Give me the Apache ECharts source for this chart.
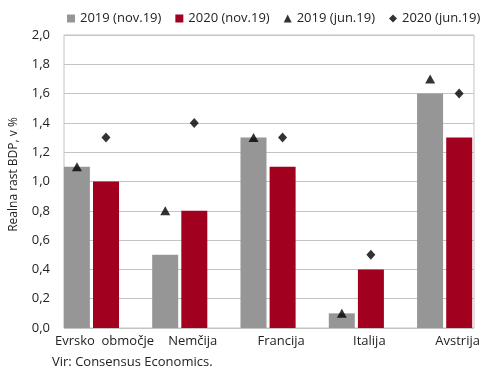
<!DOCTYPE html>
<html><head><meta charset="utf-8">
<script src="https://cdn.jsdelivr.net/npm/echarts@6/dist/echarts.min.js"></script>
<style>html,body{margin:0;padding:0;background:#fff}#c{width:490px;height:376px}</style>
</head><body><div id="c"></div>
<script>
const categories = ['Evrsko  območje', 'Nemčija', 'Francija', 'Italija', 'Avstrija'];
const nov2019 = [1.1, 0.5, 1.3, 0.1, 1.6];
const nov2020 = [1.0, 0.8, 1.1, 0.4, 1.3];
const jun2019 = [1.1, 0.8, 1.3, 0.1, 1.7];
const jun2020 = [1.3, 1.4, 1.3, 0.5, 1.6];
const yTicks = [0, 0.2, 0.4, 0.6, 0.8, 1.0, 1.2, 1.4, 1.6, 1.8, 2.0];
const seriesNames = ['2019 (nov.19)', '2020 (nov.19)', '2019 (jun.19)', '2020 (jun.19)'];

const FONT = 'Open Sans';
const chart = echarts.init(document.getElementById('c'), null, {renderer: 'canvas'});
const grey = '#969696', red = '#a2001f';
chart.setOption({
  animation: false,
  textStyle: {fontFamily: FONT},
  legend: {
    top: 7, left: 62, itemGap: 14, itemWidth: 8, itemHeight: 8,
    textStyle: {fontFamily: FONT, fontSize: 13, color: '#222'},
    data: [
      {name: seriesNames[0], icon: 'rect'},
      {name: seriesNames[1], icon: 'rect'},
      {name: seriesNames[2], icon: 'triangle'},
      {name: seriesNames[3], icon: 'diamond'}
    ]
  },
  grid: [
    {left: 47.3, width: 441.5, top: 35, height: 293},
    {left: 62, width: 412, top: 35, height: 293, show: true, borderColor: '#c4c4c4', borderWidth: 1}
  ],
  xAxis: [
    {type: 'category', gridIndex: 0, data: categories,
     axisLine: {show: false}, axisTick: {show: false},
     axisLabel: {interval: 0, hideOverlap: false, fontFamily: FONT, fontSize: 13, color: '#222', margin: 7, padding: [0, 0, 0, 26]}},
    {type: 'value', gridIndex: 1, min: 0, max: 1, show: false}
  ],
  yAxis: [
    {type: 'value', gridIndex: 0, min: 0, max: 2, interval: 0.2, show: false},
    {type: 'value', gridIndex: 1, min: 0, max: 2, interval: 0.2,
     name: 'Realna rast BDP, v %', nameLocation: 'middle', nameGap: 44, nameRotate: 90,
     nameTextStyle: {fontFamily: FONT, fontSize: 12, color: '#222', padding: [0, 0, 0, 14]},
     axisLine: {show: false}, axisTick: {show: false},
     splitLine: {lineStyle: {color: '#c4c4c4', width: 1}},
     axisLabel: {fontFamily: FONT, fontSize: 13, color: '#222', margin: 14,
       formatter: v => v.toFixed(1).replace('.', ',')}}
  ],
  graphic: [{type: 'text', left: 52, top: 356,
    style: {text: 'Vir: Consensus Economics.', font: '13px "Open Sans"', fill: '#222'}}],
  series: [
    {name: seriesNames[0], type: 'bar', xAxisIndex: 0, yAxisIndex: 0, data: nov2019,
     barWidth: 26, barGap: '12%', itemStyle: {color: grey}, z: 3},
    {name: seriesNames[1], type: 'bar', xAxisIndex: 0, yAxisIndex: 0, data: nov2020,
     barWidth: 26, barGap: '12%', itemStyle: {color: red}, z: 3},
    {name: seriesNames[2], type: 'scatter', xAxisIndex: 0, yAxisIndex: 0, data: jun2019,
     symbol: 'triangle', symbolSize: [10, 9], symbolOffset: [-14.5, 0], itemStyle: {color: '#000'}, z: 4},
    {name: seriesNames[3], type: 'scatter', xAxisIndex: 0, yAxisIndex: 0, data: jun2020,
     symbol: 'diamond', symbolSize: [9, 10], symbolOffset: [14.5, 0], itemStyle: {color: '#000'}, z: 4}
  ]
});
</script></body></html>
